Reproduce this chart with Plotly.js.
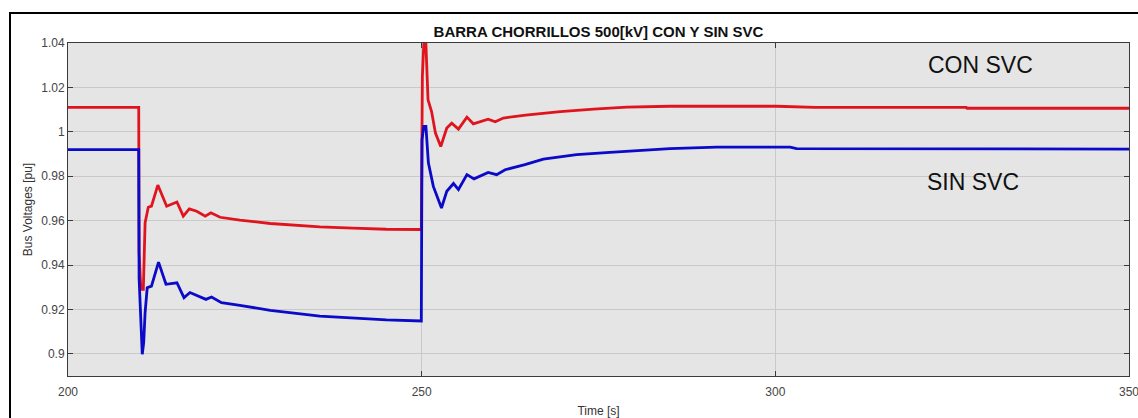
<!DOCTYPE html>
<html>
<head>
<meta charset="utf-8">
<script src="https://cdn.plot.ly/plotly-3.0.1.min.js"></script>
<style>
  html, body { margin: 0; padding: 0; background: #ffffff; }
  #chart { width: 1138px; height: 418px; }
  #frame { position: absolute; left: 9px; top: 12px; width: 1200px; height: 500px;
           border-left: 2px solid #000; border-top: 2px solid #000; pointer-events: none; }
</style>
</head>
<body>
<div id="chart"></div>
<div id="frame"></div>
<script>
// CON SVC (red)
const tCon = [200, 210, 210.05, 210.3, 210.65, 210.9, 211.35, 211.8, 212.7, 213.95, 215.4, 216.3, 217.15, 218.2, 219.4, 220.2, 221.5, 224.3, 228.6, 235.6, 240.3, 245, 249.95, 250.1, 250.3, 250.6, 250.9, 251.4, 251.95, 252.7, 253.55, 254.25, 255.2, 256.4, 257.3, 259.4, 260.4, 261.55, 264.7, 269.6, 274.3, 279, 285.1, 300.2, 305.6, 327, 327.1, 350];
const vCon = [1.011, 1.011, 0.9457, 0.929, 0.929, 0.959, 0.966, 0.9665, 0.976, 0.9665, 0.9684, 0.962, 0.9653, 0.9642, 0.962, 0.9635, 0.9615, 0.9602, 0.9587, 0.9572, 0.9566, 0.9561, 0.956, 1.025, 1.0395, 1.0395, 1.0144, 1.0091, 0.9994, 0.9934, 1.0017, 1.0039, 1.0012, 1.0066, 1.0036, 1.0057, 1.0045, 1.0062, 1.0075, 1.0091, 1.0102, 1.0111, 1.0115, 1.0115, 1.011, 1.011, 1.0106, 1.0106];

// SIN SVC (blue)
const tSin = [200, 210, 210.05, 210.2, 210.5, 210.7, 210.9, 211.2, 211.8, 212.8, 213.85, 215.4, 216.4, 217.25, 218.2, 219.5, 220.3, 221.7, 224.3, 228.6, 235.6, 240.3, 245, 249.95, 250.05, 250.3, 250.6, 250.95, 251.65, 252.8, 253.55, 254.5, 255.2, 256.4, 257.4, 259.4, 260.6, 261.8, 264.6, 267.2, 271.9, 276.6, 281.3, 285.1, 291.7, 302.1, 303, 350];
const vSin = [0.992, 0.992, 0.934, 0.92, 0.8998, 0.905, 0.9186, 0.9298, 0.9305, 0.9413, 0.9313, 0.932, 0.9253, 0.9276, 0.9263, 0.9245, 0.9256, 0.923, 0.9218, 0.9196, 0.917, 0.916, 0.9153, 0.9148, 0.9964, 1.0024, 1.0024, 0.986, 0.9754, 0.9657, 0.9732, 0.9767, 0.974, 0.9807, 0.9788, 0.9817, 0.9807, 0.9829, 0.9852, 0.9877, 0.9897, 0.9907, 0.9916, 0.9924, 0.9931, 0.9931, 0.9924, 0.9922];

const xTicks = [200, 250, 300, 350];
const yTicks = [0.9, 0.92, 0.94, 0.96, 0.98, 1, 1.02, 1.04];
const seriesNames = ['CON SVC', 'SIN SVC'];

const FONT = 'Liberation Sans, Arial, Helvetica, sans-serif';

const traces = [
  { x: tCon, y: vCon, mode: 'lines', name: seriesNames[0],
    line: { color: '#e0141e', width: 2.8 } },
  { x: tSin, y: vSin, mode: 'lines', name: seriesNames[1],
    line: { color: '#0a0ac8', width: 2.8 } }
];

const axisCommon = {
  showline: true, linecolor: '#3a3a3a', linewidth: 1, mirror: 'ticks',
  ticks: 'inside', ticklen: 5, tickcolor: '#3a3a3a', tickwidth: 1,
  showgrid: true, gridcolor: '#c9c9c9', gridwidth: 1, zeroline: false,
  ticklabeloverflow: 'allow',
  tickfont: { family: FONT, size: 12, color: '#444444' }
};

const layout = {
  width: 1138, height: 418,
  margin: { l: 68, r: 9, t: 43, b: 42 },
  paper_bgcolor: 'rgba(0,0,0,0)',
  plot_bgcolor: '#e5e5e5',
  showlegend: false,
  title: { text: '<b>BARRA CHORRILLOS 500[kV] CON Y SIN SVC</b>',
           font: { family: FONT, size: 15, color: '#111111' },
           xref: 'paper', x: 0.5, xanchor: 'center',
           yref: 'container', y: 1 - 31.5 / 418, yanchor: 'middle' },
  xaxis: Object.assign({}, axisCommon, {
    range: [200, 350], tickvals: xTicks, ticktext: xTicks.map(String),
    ticklabelstandoff: 5,
    title: { text: 'Time [s]', font: { family: FONT, size: 12, color: '#333333' }, standoff: 8 }
  }),
  yaxis: Object.assign({}, axisCommon, {
    range: [0.89, 1.04], tickvals: yTicks,
    title: { text: 'Bus Voltages [pu]', font: { family: FONT, size: 12, color: '#333333' }, standoff: 6 }
  }),
  annotations: [
    { x: 329, y: 1.0301, xref: 'x', yref: 'y', text: seriesNames[0], showarrow: false,
      font: { family: FONT, size: 23, color: '#111111' } },
    { x: 328, y: 0.9776, xref: 'x', yref: 'y', text: seriesNames[1], showarrow: false,
      font: { family: FONT, size: 23, color: '#111111' } }
  ]
};

Plotly.newPlot('chart', traces, layout, { staticPlot: true, displayModeBar: false });
</script>
</body>
</html>
